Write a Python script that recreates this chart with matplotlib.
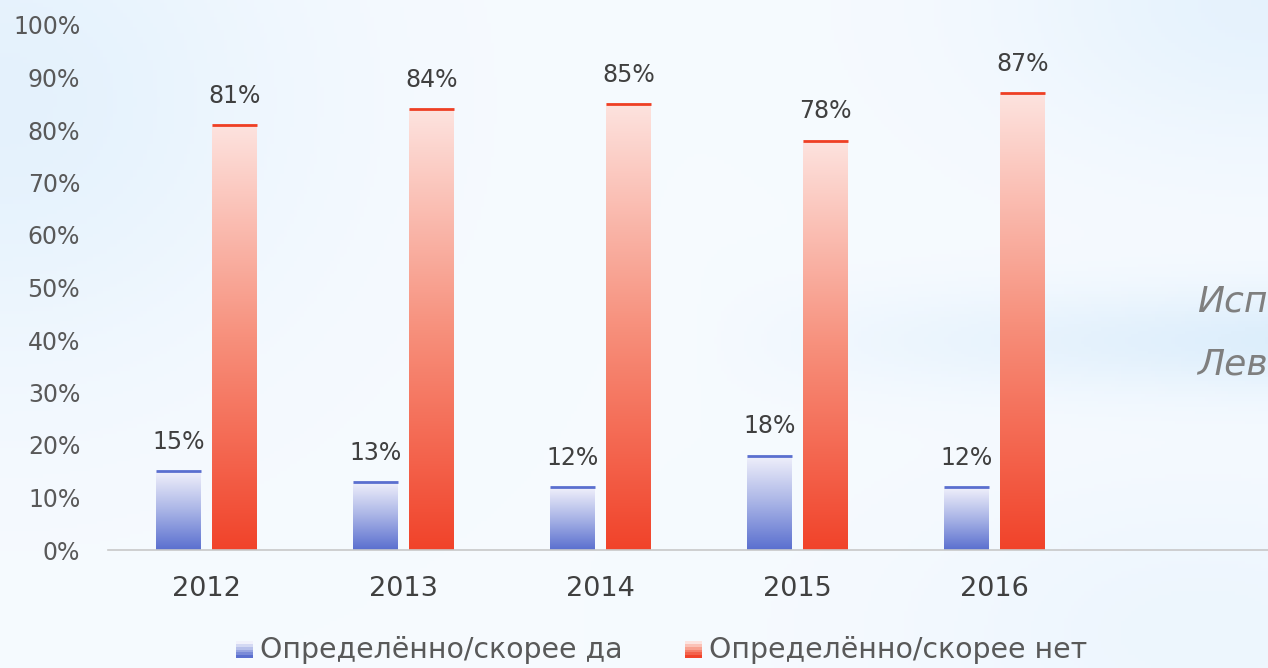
import numpy as np
import matplotlib
matplotlib.use("Agg")
import matplotlib.pyplot as plt
from matplotlib.patches import Rectangle
from matplotlib.legend_handler import HandlerBase
from matplotlib.colors import LinearSegmentedColormap

years = ["2012", "2013", "2014", "2015", "2016"]
yes_vals = [15, 13, 12, 18, 12]
no_vals = [81, 84, 85, 78, 87]
yticks = list(range(0, 101, 10))
series_names = ["Определённо/скорее да", "Определённо/скорее нет"]

plt.rcParams['font.family'] = ['DejaVu Sans']

W, H = 1268, 668
fig = plt.figure(figsize=(W / 100, H / 100), dpi=100)

# background
bg = fig.add_axes([0, 0, 1, 1])
yy, xx = np.mgrid[0:1:200j, 0:1:380j]
light = np.array([0.965, 0.982, 1.0])
blue = np.array([0.85, 0.925, 0.985])
w = 0.6 * np.exp(-((xx - 0.0) ** 2 / 0.05 + (yy - 0.15) ** 2 / 0.15))
w += 0.85 * np.exp(-((yy - 0.51) ** 2 / 0.006)) * np.clip((xx - 0.55) / 0.45, 0, 1)
w += 0.55 * np.exp(-((xx - 1.0) ** 2 / 0.04 + (yy - 0.0) ** 2 / 0.05))
w += 0.3 * np.exp(-((xx - 0.95) ** 2 / 0.05 + (yy - 0.95) ** 2 / 0.05))
w = np.clip(w, 0, 1)[..., None]
img = light * (1 - w) + blue * w
bg.imshow(img, extent=[0, 1, 0, 1], aspect='auto', origin='upper')
bg.set_axis_off()

left = 108 / W
bottom = (H - 550) / H
top = (H - 25) / H
ax = fig.add_axes([left, bottom, 1 - left, top - bottom])
ax.patch.set_alpha(0)

x = np.arange(len(years))
bw = 0.228
off = 0.142
cm_blue = LinearSegmentedColormap.from_list("b", ["#5a6fcf", "#a9b4e6", "#f1f1fb"])
cm_red = LinearSegmentedColormap.from_list("r", ["#f1432a", "#f7907c", "#fde3df"])

b1 = ax.bar(x - off, yes_vals, bw, color='none')
b2 = ax.bar(x + off, no_vals, bw, color='none')

grad = np.linspace(0, 1, 256).reshape(-1, 1)
for bars, cmap, edge in [(b1, cm_blue, "#5a6fcf"), (b2, cm_red, "#ee3f24")]:
    for r in bars:
        x0, w_, h = r.get_x(), r.get_width(), r.get_height()
        ax.imshow(grad, extent=[x0, x0 + w_, 0, h], origin='lower', cmap=cmap,
                  aspect='auto', zorder=2)
        ax.plot([x0, x0 + w_], [h, h], color=edge, lw=2.0, solid_capstyle='butt', zorder=3)
        ax.annotate(f"{int(h)}%", (x0 + w_ / 2, h), xytext=(0, 21), textcoords='offset points',
                    ha='center', va='center', fontsize=17, color='#404040', zorder=4)

ax.set_xlim(-0.5, -0.5 + (W - 108) / 197)
ax.set_ylim(0, 100)
ax.set_yticks(yticks)
ax.set_yticklabels([f"{t}%" for t in yticks])
ax.set_xticks(x)
ax.set_xticklabels(years)
ax.tick_params(axis='y', length=0, pad=20, labelsize=17, labelcolor='#595959')
ax.tick_params(axis='x', length=0, pad=19, labelsize=19.5, labelcolor='#404040')
for s in ['top', 'right', 'left']:
    ax.spines[s].set_visible(False)
ax.spines['bottom'].set_color('#c8c8c8')
ax.spines['bottom'].set_linewidth(1.2)


class GradHandler(HandlerBase):
    def __init__(self, cmap):
        super().__init__()
        self.cmap = cmap

    def create_artists(self, legend, orig_handle, xdescent, ydescent, width, height, fontsize, trans):
        arts = []
        n = 6
        s = height * 0.85
        x0 = width - s
        for i in range(n):
            c = self.cmap(i / (n - 1))
            arts.append(Rectangle((x0 - xdescent, -ydescent + i * s / n), s, s / n,
                                  facecolor=c, edgecolor='none', transform=trans))
        return arts


h1 = Rectangle((0, 0), 1, 1)
h2 = Rectangle((0, 0), 1, 1)
leg = fig.legend([h1, h2], series_names, loc='center', bbox_to_anchor=(662 / W, 1 - 650 / H),
                 ncol=2, frameon=False, fontsize=20.4, labelcolor='#595959',
                 handler_map={h1: GradHandler(cm_blue), h2: GradHandler(cm_red)},
                 handlelength=0.6, handletextpad=0.25, columnspacing=2.2)

fig.text(1197 / W, 1 - 301 / H, "Исполнитель:", fontsize=26, style='italic',
         color='#7f7f7f', va='center', ha='left')
fig.text(1197 / W, 1 - 365 / H, "Левада-Центр", fontsize=26, style='italic',
         color='#7f7f7f', va='center', ha='left')

fig.savefig("out.png", dpi=100)
